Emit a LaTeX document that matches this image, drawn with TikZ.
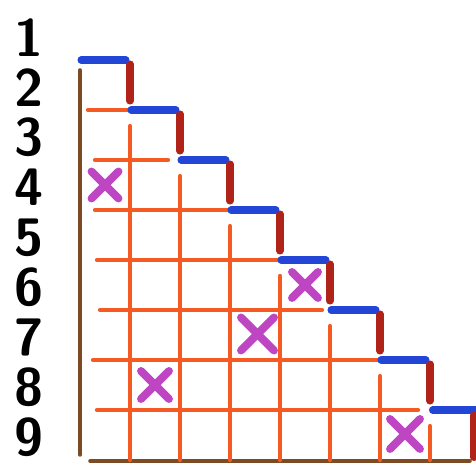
\documentclass[tikz,border=0pt]{standalone}
\usepackage{tikz}
\usetikzlibrary{positioning}
\definecolor{step_blue}{RGB}{35,70,215}
\definecolor{riser_red}{RGB}{175,35,25}
\definecolor{grid_orange}{RGB}{245,90,35}
\definecolor{axis_brown}{RGB}{125,75,35}
\definecolor{cross_pink}{RGB}{190,70,195}

\begin{document}
\begin{tikzpicture}[line cap=round,
    tread/.style={step_blue,line width=4pt},
    riser/.style={riser_red,line width=4pt},
    gridline/.style={grid_orange,line width=2.4pt},
    axisline/.style={axis_brown,line width=2pt},
    cross/.style={cross_pink,line width=4.5pt},
    digit/.style={font=\fontsize{30}{30}\selectfont\sffamily\bfseries}]
        \useasboundingbox (-1.6,-0.16) rectangle (7.92,9.2);
        % row numbers
        \foreach \n in {1,...,9}
          \node[digit] (n\n) at (-1.02,9.45-\n) {\n};
        % axes
        \draw[axisline] (0,7.8) -- (0,0.1);
        \draw[axisline] (0.2,-0.02) -- (7.8,-0.02);
        % grid
        \foreach \y/\xa/\xb in {7/0.16/0.95, 6/0.3/1.76, 5/0.3/3.0,
            4/0.34/4.0, 3/0.4/4.84, 2/0.26/6.0, 1/0.34/6.76}
          \draw[gridline] (\xa,\y) -- (\xb,\y);
        \foreach \x in {1,...,7}
          \draw[gridline] (\x,7.68-\x) -- (\x,0);
        % staircase
        \foreach \k in {0,...,6} {
          \draw[tread] (\k+0.02,8-\k) -- (\k+0.92,8-\k);
          \draw[riser] (\k+1,7.92-\k) -- (\k+1,7.18-\k);
        }
        \draw[tread] (7.05,1) -- (7.92,1);
        \draw[riser] (7.88,0.9) -- (7.88,0.05);
        % crosses
        \foreach \cx/\cy/\r in {0.5/5.5/0.27, 4.5/3.5/0.26, 3.55/2.52/0.33,
            1.5/1.5/0.28, 6.5/0.52/0.3} {
          \draw[cross] (\cx-\r,\cy+\r) -- (\cx+\r,\cy-\r);
          \draw[cross] (\cx-\r,\cy-\r) -- (\cx+\r,\cy+\r);
        }
      \end{tikzpicture}
\end{document}
